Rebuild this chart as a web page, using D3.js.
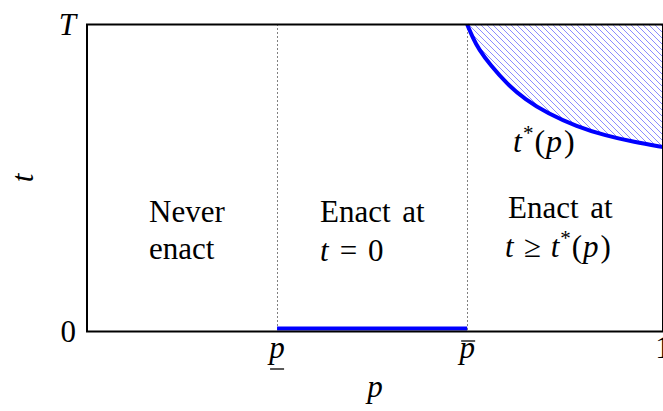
<html>
    <head>
        <style>
            body { margin: 0; background: #fff; }
            .math { font-style: italic; }
        </style>
        <script src="https://d3js.org/d3.v7.min.js"></script>
    </head>
    <body>
        <svg id="plot" width="663" height="411" font-family="Liberation Serif, DejaVu Serif, serif"></svg>
        <script>
            // thresholds on the p axis
            const pLow = 0.33;
            const pHigh = 0.66;

            // t*(p) boundary (t as a share of T)
            const curveP = [0.66, 0.67, 0.68, 0.70, 0.73, 0.76, 0.80, 0.85, 0.90, 0.95, 1.0];
            const curveT = [1.00, 0.956, 0.92, 0.868, 0.805, 0.757, 0.71, 0.668, 0.638, 0.617, 0.601];

            const tickP = [pLow, pHigh, 1];
            const tickT = [0, 1];

            const svg = d3.select('#plot');

            const xScale = d3.scaleLinear().domain([0, 1]).range([87, 663]);
            const yScale = d3.scaleLinear().domain([0, 1]).range([331.5, 24.5]);

            const curveData = curveP.map((p, i) => ({p: p, t: curveT[i]}));

            // hatch pattern
            const defs = svg.append('defs');
            const pat = defs.append('pattern')
                .attr('id', 'hatch')
                .attr('patternUnits', 'userSpaceOnUse')
                .attr('width', 6)
                .attr('height', 6);
            pat.append('path')
                .attr('d', 'M-1,-1 L7,7 M-7,-1 L1,7 M5,-1 L13,7')
                .attr('stroke', '#8c8cff')
                .attr('stroke-width', 1);

            // shaded region above t*(p)
            const area = d3.area()
                .x(d => xScale(d.p))
                .y0(yScale(1))
                .y1(d => yScale(d.t))
                .curve(d3.curveBasis);
            svg.append('path')
                .datum(curveData)
                .attr('d', area)
                .attr('fill', 'url(#hatch)');

            // dotted guides at the thresholds
            svg.selectAll('line.guide')
                .data([pLow, pHigh])
                .enter()
                .append('line')
                .attr('class', 'guide')
                .attr('x1', d => Math.round(xScale(d)) + 0.5)
                .attr('x2', d => Math.round(xScale(d)) + 0.5)
                .attr('y1', yScale(1))
                .attr('y2', yScale(0))
                .attr('stroke', '#000')
                .attr('stroke-width', 1)
                .attr('stroke-dasharray', '1,3');

            // enact-at-zero segment
            svg.append('line')
                .attr('x1', xScale(pLow))
                .attr('x2', xScale(pHigh))
                .attr('y1', yScale(0) - 3)
                .attr('y2', yScale(0) - 3)
                .attr('stroke', '#0000ff')
                .attr('stroke-width', 4);

            // t*(p) curve
            const line = d3.line()
                .x(d => xScale(d.p))
                .y(d => yScale(d.t))
                .curve(d3.curveBasis);
            svg.append('path')
                .datum(curveData)
                .attr('d', line)
                .attr('fill', 'none')
                .attr('stroke', '#0000ff')
                .attr('stroke-width', 4);

            // frame
            svg.append('rect')
                .attr('x', xScale(0))
                .attr('y', yScale(1))
                .attr('width', xScale(1) - xScale(0))
                .attr('height', yScale(0) - yScale(1))
                .attr('fill', 'none')
                .attr('stroke', '#000')
                .attr('stroke-width', 2);

            // tick labels on p
            const xt = svg.append('g');
            xt.selectAll('text')
                .data(tickP)
                .enter()
                .append('text')
                .attr('x', d => xScale(d))
                .attr('y', 358)
                .attr('text-anchor', 'middle')
                .attr('font-size', 31)
                .attr('class', d => d === 1 ? '' : 'math')
                .text(d => d === 1 ? '1' : 'p');
            // underline for p lower, bar for p upper
            xt.append('line')
                .attr('x1', xScale(pLow) - 7).attr('x2', xScale(pLow) + 7)
                .attr('y1', 369).attr('y2', 369)
                .attr('stroke', '#000').attr('stroke-width', 1.3);
            xt.append('line')
                .attr('x1', xScale(pHigh) - 6).attr('x2', xScale(pHigh) + 8)
                .attr('y1', 341).attr('y2', 341)
                .attr('stroke', '#000').attr('stroke-width', 1.3);

            // tick labels on t
            svg.selectAll('text.ty')
                .data(tickT)
                .enter()
                .append('text')
                .attr('class', d => d === 1 ? 'ty math' : 'ty')
                .attr('x', 76)
                .attr('y', d => yScale(d) + 10)
                .attr('text-anchor', 'end')
                .attr('font-size', 31)
                .text(d => d === 1 ? 'T' : '0');

            // axis labels
            svg.append('text')
                .attr('class', 'math')
                .attr('x', xScale(0.5))
                .attr('y', 397)
                .attr('text-anchor', 'middle')
                .attr('font-size', 31)
                .text('p');
            svg.append('text')
                .attr('class', 'math')
                .attr('transform', `translate(33, ${yScale(0.5)}) rotate(-90)`)
                .attr('text-anchor', 'middle')
                .attr('font-size', 31)
                .text('t');

            // curve label t*(p)
            function tStar(sel, lead) {
                sel.append('tspan').attr('class', 'math').attr('dx', lead || 0).text('t');
                sel.append('tspan').attr('font-size', 21).attr('dx', 1).attr('dy', -12).text('*');
                sel.append('tspan').attr('dx', 1).attr('dy', 12).text('(');
                sel.append('tspan').attr('class', 'math').attr('dx', 1).text('p');
                sel.append('tspan').attr('dx', 2).text(')');
            }
            const lab = svg.append('text')
                .attr('x', 513)
                .attr('y', 152)
                .attr('font-size', 32);
            tStar(lab);

            // region labels
            const fs = 31;
            svg.append('text').attr('x', 149).attr('y', 222).attr('font-size', fs).text('Never');
            svg.append('text').attr('x', 149).attr('y', 259).attr('font-size', fs).text('enact');

            svg.append('text').attr('x', 320).attr('y', 222).attr('font-size', fs).attr('word-spacing', 4).text('Enact at');
            const t0 = svg.append('text').attr('x', 320).attr('y', 261).attr('font-size', fs);
            t0.append('tspan').attr('class', 'math').text('t');
            t0.append('tspan').attr('dx', 11).text('=');
            t0.append('tspan').attr('dx', 11).text('0');

            svg.append('text').attr('x', 508).attr('y', 218).attr('font-size', fs).attr('word-spacing', 4).text('Enact at');
            const tge = svg.append('text').attr('x', 505).attr('y', 257).attr('font-size', fs);
            tge.append('tspan').attr('class', 'math').text('t');
            tge.append('tspan').attr('dx', 10).text('\u2265');
            tStar(tge, 10);
        </script>
    </body>
</html>
